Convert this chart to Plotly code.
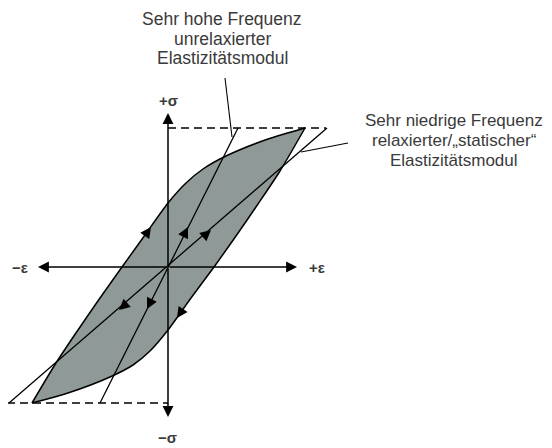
import plotly.graph_objects as go

# ---- data (strain eps, stress sigma; arbitrary diagram units) ----
upper_eps = [-136, -112, -90, -68, -46, -23, 0, 18, 35, 58, 100, 137]
upper_sig = [-136, -96, -63, -31, 0, 32, 64, 84, 98, 111, 128, 139]
lower_eps = [137, 112, 90, 68, 46, 23, 0, -18, -35, -58, -100, -136]
lower_sig = [139, 96, 63, 31, 0, -31, -63, -84, -98, -110, -126, -136]

unrelaxed_eps = [-68, 70]
unrelaxed_sig = [-136, 139]
relaxed_eps = [-159, 159]
relaxed_sig = [-136, 139]

sig_max, sig_min = 139, -136
eps_max_dash, eps_min_dash = 158, -161

axis_eps_lim = [-130, 129]
axis_sig_lim = [-150, 154]

pointer_top_eps = [57, 64]
pointer_top_sig = [189, 130]
pointer_right_eps = [180, 133]
pointer_right_sig = [124, 115]

# arrow heads on curves: tip (eps, sig) and direction vector
arrow_tips = [(-17, 40), (20, 40), (43, 37), (-49, -43), (-21, -42), (9, -51)]
arrow_dirs = [(1, 1.43), (70, 139), (159, 139), (-159, -139), (-70, -139), (-23, -34)]

label_top = ["Sehr hohe Frequenz", "unrelaxierter", "Elastizitätsmodul"]
label_right = ["Sehr niedrige Frequenz", "relaxierter/„statischer“", "Elastizitätsmodul"]

TXT = "#3a3a3a"
FONT = "Liberation Sans, Arial, sans-serif"

fig = go.Figure()

# hysteresis loop fill (between two branches)
fig.add_trace(go.Scatter(x=lower_eps, y=lower_sig, mode="lines",
                         line=dict(color="black", width=1.5, shape="spline", smoothing=0.7),
                         hoverinfo="skip"))
fig.add_trace(go.Scatter(x=upper_eps, y=upper_sig, mode="lines", fill="tonext",
                         fillcolor="#8f9997",
                         line=dict(color="black", width=1.5, shape="spline", smoothing=0.7),
                         hoverinfo="skip"))

# dashed limits
fig.add_trace(go.Scatter(x=[0, eps_max_dash], y=[sig_max, sig_max], mode="lines",
                         line=dict(color="black", width=1.3, dash="8px,5px"), hoverinfo="skip"))
fig.add_trace(go.Scatter(x=[eps_min_dash, 0], y=[sig_min, sig_min], mode="lines",
                         line=dict(color="black", width=1.3, dash="8px,5px"), hoverinfo="skip"))

# modulus lines
fig.add_trace(go.Scatter(x=unrelaxed_eps, y=unrelaxed_sig, mode="lines",
                         line=dict(color="black", width=1.3), hoverinfo="skip"))
fig.add_trace(go.Scatter(x=relaxed_eps, y=relaxed_sig, mode="lines",
                         line=dict(color="black", width=1.3), hoverinfo="skip"))

# pointer lines
fig.add_trace(go.Scatter(x=pointer_top_eps, y=pointer_top_sig, mode="lines",
                         line=dict(color="black", width=1.1), hoverinfo="skip"))
fig.add_trace(go.Scatter(x=pointer_right_eps, y=pointer_right_sig, mode="lines",
                         line=dict(color="black", width=1.1), hoverinfo="skip"))

annotations = []
# axes with arrow heads
for tx, ty in [(axis_eps_lim[0], 0), (axis_eps_lim[1], 0), (0, axis_sig_lim[0]), (0, axis_sig_lim[1])]:
    annotations.append(dict(x=tx, y=ty, ax=0, ay=0, xref="x", yref="y", axref="x", ayref="y",
                            text="", showarrow=True, arrowhead=2, arrowsize=1.45,
                            arrowwidth=1.5, arrowcolor="black", standoff=0, startstandoff=0))

# arrow heads along curves
for (tx, ty), (dx, dy) in zip(arrow_tips, arrow_dirs):
    n = (dx * dx + dy * dy) ** 0.5
    annotations.append(dict(x=tx, y=ty, ax=tx - 8 * dx / n, ay=ty - 8 * dy / n,
                            xref="x", yref="y", axref="x", ayref="y",
                            text="", showarrow=True, arrowhead=2, arrowsize=1.45,
                            arrowwidth=1.5, arrowcolor="black", standoff=0))

# text labels
for i, t in enumerate(label_top):
    annotations.append(dict(x=54, y=248 - 19.5 * i, xref="x", yref="y", text=t, showarrow=False,
                            font=dict(family=FONT, size=17.5, color=TXT), xanchor="center", yanchor="middle"))
for i, t in enumerate(label_right):
    annotations.append(dict(x=286, y=147 - 20 * i, xref="x", yref="y", text=t, showarrow=False,
                            font=dict(family=FONT, size=17, color=TXT), xanchor="center", yanchor="middle"))

for t, x, y in [("<b>+σ</b>", 0, 167), ("<b>−σ</b>", -1, -170), ("<b>−ε</b>", -148, 0), ("<b>+ε</b>", 149, 0)]:
    annotations.append(dict(x=x, y=y, xref="x", yref="y", text=t, showarrow=False,
                            font=dict(family=FONT, size=15, color=TXT), xanchor="center", yanchor="middle"))

# page body has an 8px margin: figure is sized and ranged so the content sits as in the reference
fig.update_layout(
    width=544, height=440, autosize=False,
    margin=dict(l=0, r=0, t=0, b=0, pad=0),
    paper_bgcolor="white", plot_bgcolor="white",
    showlegend=False,
    xaxis=dict(range=[-160, 384], visible=False, fixedrange=True),
    yaxis=dict(range=[-181, 259], visible=False, fixedrange=True),
    annotations=annotations,
)

fig.write_html("out.html")
